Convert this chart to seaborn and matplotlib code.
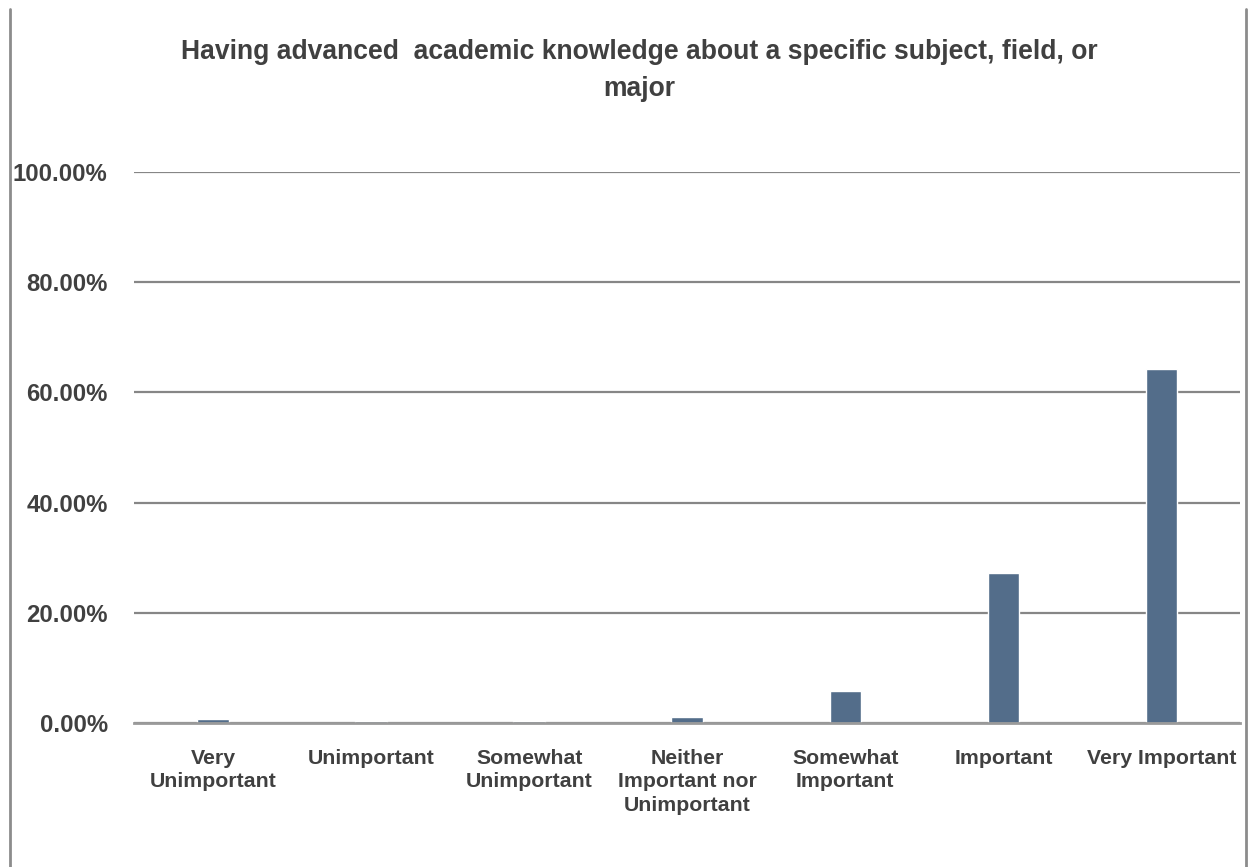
import pandas as pd
import matplotlib.pyplot as plt
import seaborn as sns
from matplotlib.lines import Line2D
from matplotlib.ticker import FuncFormatter

categories = ["Very\nUnimportant", "Unimportant", "Somewhat\nUnimportant",
              "Neither\nImportant nor\nUnimportant", "Somewhat\nImportant",
              "Important", "Very Important"]
shares = [0.8, 0.35, 0.4, 1.15, 5.8, 27.2, 64.3]
y_ticks = [0, 20, 40, 60, 80, 100]
title = "Having advanced  academic knowledge about a specific subject, field, or\nmajor"

sns.set_theme(style="white")
plt.rcParams['font.family'] = ['Liberation Sans', 'DejaVu Sans']
plt.rcParams['font.weight'] = 'bold'
text_color = '#404040'

df = pd.DataFrame({"answer": categories, "share": shares})

fig = plt.figure(figsize=(12.53, 8.67), dpi=100)
ax = fig.add_axes([0.107, 0.166, 0.883, 0.6356])

sns.barplot(data=df, x="answer", y="share", color="#536D8A", width=0.2,
            saturation=1, ax=ax)

ax.set_ylim(0, 100)
ax.set_yticks(y_ticks)
ax.yaxis.set_major_formatter(FuncFormatter(lambda v, p: f"{v:.2f}%"))
ax.set_xlabel("")
ax.set_ylabel("")
ax.grid(axis='y', color='#868686', linewidth=1.6)
ax.set_axisbelow(True)
for s in ['top', 'right', 'left']:
    ax.spines[s].set_visible(False)
ax.spines['bottom'].set_color('#9a9a9a')
ax.spines['bottom'].set_linewidth(2)
ax.tick_params(axis='both', length=0)
ax.tick_params(axis='y', pad=19, labelsize=17.2, labelcolor=text_color)
ax.tick_params(axis='x', pad=18.5, labelsize=15.3, labelcolor=text_color)
for lbl in ax.get_xticklabels():
    lbl.set_linespacing(1.3)
    lbl.set_fontweight('bold')
for lbl in ax.get_yticklabels():
    lbl.set_fontweight('bold')

fig.text(0.51, 0.955, title, ha='center', va='top', fontsize=19.1,
         fontweight='bold', color=text_color, linespacing=1.55)

# chart frame edges (left and right)
fig.add_artist(Line2D([10 / 1253, 10 / 1253], [0, 1 - 9 / 867],
                      transform=fig.transFigure, color='#8c8c8c', lw=2))
fig.add_artist(Line2D([1246 / 1253, 1246 / 1253], [0, 1 - 9 / 867],
                      transform=fig.transFigure, color='#8c8c8c', lw=2))

fig.savefig("out.png", dpi=100)
